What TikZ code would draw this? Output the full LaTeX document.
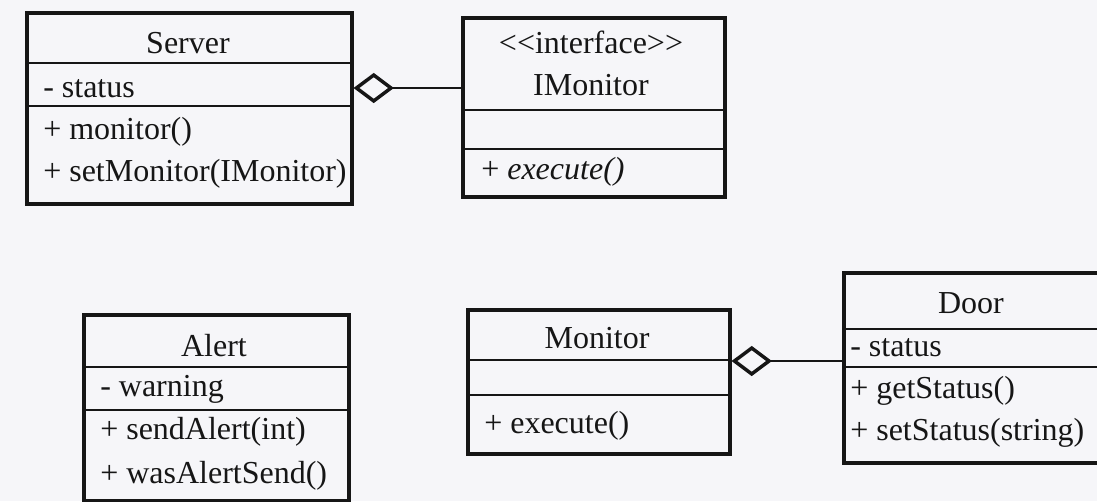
\documentclass[tikz,border=0pt]{standalone}
\usepackage{fontspec}
\setmainfont{Liberation Serif}
\usetikzlibrary{shapes.geometric}
\definecolor{bg}{RGB}{246,246,249}
\definecolor{ink}{RGB}{22,22,22}
\begin{document}
\begin{tikzpicture}[x=0.75pt,y=-0.75pt,
  classbox/.style={draw=ink,line width=3pt,inner sep=0pt,anchor=north west},
  divider/.style={draw=ink,line width=1.4pt},
  txt/.style={font=\fontsize{24}{27}\selectfont,inner sep=0pt,text=ink},
  member/.style={txt,anchor=base west},
  title/.style={txt,anchor=base},
  agg/.style={diamond,draw=ink,line width=2.6pt,fill=bg,minimum width=27pt,minimum height=20.5pt,inner sep=0pt,anchor=west},
  assoc/.style={draw=ink,line width=1.1pt}]
\clip (0,0) rectangle (1097,501);
\fill[bg] (0,0) rectangle (1097,501);

% Server
\node[classbox,minimum width=243.75pt,minimum height=143.25pt] (server) at (25,11) {};
\draw[divider] (server.west |- 0,63) -- (server.east |- 0,63);
\draw[divider] (server.west |- 0,106) -- (server.east |- 0,106);
\node[title] (server-t) at (188,53) {Server};
\node[member] (server-a) at (43,97) {- status};
\node[member] (server-m1) at (43,139) {+ monitor()};
\node[member] (server-m2) at (43,181) {+ setMonitor(IMonitor)};

% IMonitor
\node[classbox,minimum width=196.5pt,minimum height=134.25pt] (imon) at (461,16) {};
\draw[divider] (imon.west |- 0,110) -- (imon.east |- 0,110);
\draw[divider] (imon.west |- 0,149) -- (imon.east |- 0,149);
\node[title] (imon-s) at (591,53) {<\kern0pt<interface>\kern0pt>};
\node[title] (imon-t) at (591,95) {IMonitor};
\node[member] (imon-m1) at (481,179) {+ \textit{execute()}};

% Alert
\node[classbox,minimum width=198.75pt,minimum height=139.5pt] (alert) at (82,313) {};
\draw[divider] (alert.west |- 0,367) -- (alert.east |- 0,367);
\draw[divider] (alert.west |- 0,410) -- (alert.east |- 0,410);
\node[title] (alert-t) at (214,356) {Alert};
\node[member] (alert-a) at (100,396) {- warning};
\node[member] (alert-m1) at (100,439) {+ sendAlert(int)};
\node[member] (alert-m2) at (100,483) {+ wasAlertSend()};

% Monitor
\node[classbox,minimum width=196.5pt,minimum height=108pt] (mon) at (466,308) {};
\draw[divider] (mon.west |- 0,360) -- (mon.east |- 0,360);
\draw[divider] (mon.west |- 0,395) -- (mon.east |- 0,395);
\node[title] (mon-t) at (597,348) {Monitor};
\node[member] (mon-m1) at (484,433) {+ execute()};

% Door
\node[classbox,minimum width=193.5pt,minimum height=142.5pt] (door) at (842,271) {};
\draw[divider] (door.west |- 0,329) -- (door.east |- 0,329);
\draw[divider] (door.west |- 0,367) -- (door.east |- 0,367);
\node[title] (door-t) at (971,313) {Door};
\node[member] (door-a) at (850,356) {- status};
\node[member] (door-m1) at (850,398) {+ getStatus()};
\node[member] (door-m2) at (850,440) {+ setStatus(string)};

% Aggregations
\node[agg] (agg1) at (server.east |- 0,88) {};
\draw[assoc] (agg1.east) -- (agg1.east -| imon.west);
\node[agg] (agg2) at (mon.east |- 0,361) {};
\draw[assoc] (agg2.east) -- (agg2.east -| door.west);
\end{tikzpicture}
\end{document}
